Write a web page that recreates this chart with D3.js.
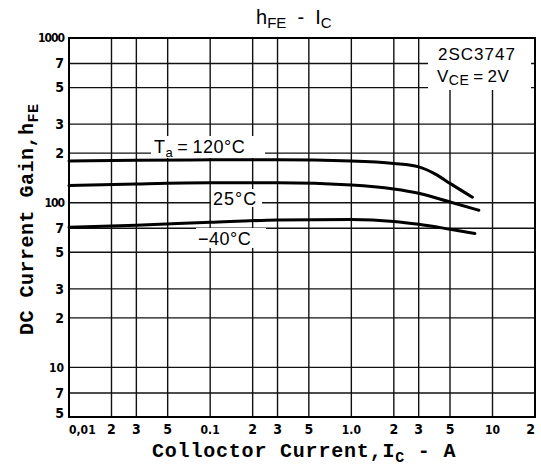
<!DOCTYPE html>
<html>
<head>
<meta charset="utf-8">
<script src="https://cdn.jsdelivr.net/npm/d3@7"></script>
<style>
  body { margin: 0; background: #fff; }
  svg { display: block; }
</style>
</head>
<body>
<svg id="chart" width="541" height="473"></svg>
<script>
// hFE - IC curves
const ic120 = [0.01, 0.03, 0.1, 0.3, 1, 2, 3, 4, 5, 7.2];
const hfe120 = [179, 181, 182, 182, 179, 173, 165, 148, 131, 108];
const ic25 = [0.01, 0.03, 0.1, 0.3, 1, 2, 3, 5, 8];
const hfe25 = [127, 130, 132, 132, 128, 121, 114, 101, 90];
const icM40 = [0.01, 0.03, 0.1, 0.3, 1, 2, 3, 5, 7.5];
const hfeM40 = [71, 73, 76, 78.5, 79, 77, 74, 69, 65];

const xGrid = [0.01, 0.02, 0.03, 0.05, 0.1, 0.2, 0.3, 0.5, 1, 2, 3, 5, 10, 20];
const xLabels = ["0,01", "2", "3", "5", "0.1", "2", "3", "5", "1.0", "2", "3", "5", "10", "2"];
const yGrid = [5, 7, 10, 20, 30, 50, 70, 100, 200, 300, 500, 700, 1000];
const yLabels = ["5", "7", "10", "2", "3", "5", "7", "100", "2", "3", "5", "7", "1000"];

let svg = d3.select("#chart");
let svgWidth = 541;
let svgHeight = 473;
let margin = { top: 38, bottom: 56, left: 69, right: 6 };
let innerWidth = svgWidth - margin.left - margin.right;
let innerHeight = svgHeight - margin.top - margin.bottom;

let chartArea = svg
  .append("g")
  .attr("transform", "translate(" + margin.left + "," + margin.top + ")");

let xScale = d3.scaleLog().domain([0.01, 20]).range([0, innerWidth]);
let yScale = d3.scaleLog().domain([5, 1000]).range([innerHeight, 0]);

// grid
chartArea
  .selectAll(".vgrid")
  .data(xGrid)
  .enter()
  .append("line")
  .attr("class", "vgrid")
  .attr("x1", (d) => xScale(d))
  .attr("x2", (d) => xScale(d))
  .attr("y1", 0)
  .attr("y2", innerHeight)
  .attr("stroke", "#111")
  .attr("stroke-width", 1.4);

chartArea
  .selectAll(".hgrid")
  .data(yGrid)
  .enter()
  .append("line")
  .attr("class", "hgrid")
  .attr("x1", 0)
  .attr("x2", innerWidth)
  .attr("y1", (d) => yScale(d))
  .attr("y2", (d) => yScale(d))
  .attr("stroke", "#111")
  .attr("stroke-width", 1.4);

// frame
chartArea
  .append("rect")
  .attr("x", 0)
  .attr("y", 0)
  .attr("width", innerWidth)
  .attr("height", innerHeight)
  .attr("fill", "none")
  .attr("stroke", "#000")
  .attr("stroke-width", 2);

// tick labels
let tickFont = "'DejaVu Sans Condensed', 'Liberation Sans Narrow', 'DejaVu Sans', sans-serif";
svg
  .append("g")
  .selectAll("text")
  .data(xGrid)
  .enter()
  .append("text")
  .attr("x", (d, i) => margin.left + xScale(d))
  .attr("y", margin.top + innerHeight + 17)
  .attr("text-anchor", (d, i) => (i === 0 ? "start" : i === xGrid.length - 1 ? "end" : "middle"))
  .attr("font-family", tickFont)
  .attr("font-weight", "bold")
  .attr("font-size", (d, i) => (xLabels[i].length > 1 ? 12 : 14))
  .text((d, i) => xLabels[i]);

svg
  .append("g")
  .selectAll("text")
  .data(yGrid)
  .enter()
  .append("text")
  .attr("x", margin.left - 5)
  .attr("y", (d) => margin.top + yScale(d))
  .attr("dy", (d, i) => (i === 0 ? "0.1em" : "0.35em"))
  .attr("text-anchor", "end")
  .attr("font-family", tickFont)
  .attr("font-weight", "bold")
  .attr("font-size", (d, i) => (yLabels[i].length > 1 ? 12 : 14))
  .attr("letter-spacing", (d, i) => (yLabels[i].length > 2 ? -1 : 0))
  .text((d, i) => yLabels[i]);

// curves
let line = d3
  .line()
  .curve(d3.curveMonotoneX)
  .x((d) => xScale(d[0]))
  .y((d) => yScale(d[1]));

[
  [ic120, hfe120],
  [ic25, hfe25],
  [icM40, hfeM40],
].forEach(([xs, ys]) => {
  chartArea
    .append("path")
    .datum(d3.zip(xs, ys))
    .attr("fill", "none")
    .attr("stroke", "#000")
    .attr("stroke-width", 3)
    .attr("stroke-linecap", "round")
    .attr("d", line);
});

// annotations
let noteFont = "'Liberation Sans', 'DejaVu Sans', sans-serif";
function note(px, py, w, h) {
  svg
    .append("rect")
    .attr("x", px)
    .attr("y", py)
    .attr("width", w)
    .attr("height", h)
    .attr("fill", "#fff");
}

note(151, 136, 114, 22);
let t1 = svg
  .append("text")
  .attr("x", 154)
  .attr("y", 153)
  .attr("font-family", noteFont)
  .attr("font-size", 18)
  .attr("letter-spacing", 0.5);
t1.append("tspan").text("T");
t1.append("tspan").attr("font-size", 13).attr("dy", 4).text("a");
t1.append("tspan").attr("dy", -4).text("\u2009=\u2009120\u00b0C");

note(211, 189, 51, 18);
svg
  .append("text")
  .attr("x", 213)
  .attr("y", 205)
  .attr("font-family", noteFont)
  .attr("font-size", 18)
  .attr("letter-spacing", 1)
  .text("25\u00b0C");

note(196, 228, 70, 20);
svg
  .append("text")
  .attr("x", 198)
  .attr("y", 245)
  .attr("font-family", noteFont)
  .attr("font-size", 18)
  .attr("letter-spacing", 0.5)
  .text("\u221240\u00b0C");

note(428, 39, 103, 51);
svg
  .append("text")
  .attr("x", 438)
  .attr("y", 60)
  .attr("font-family", noteFont)
  .attr("font-size", 17)
  .attr("letter-spacing", 1)
  .text("2SC3747");
let t2 = svg
  .append("text")
  .attr("x", 437)
  .attr("y", 82)
  .attr("font-family", noteFont)
  .attr("font-size", 17)
  .attr("letter-spacing", 0.5);
t2.append("tspan").text("V");
t2.append("tspan").attr("font-size", 14).attr("dy", 3).text("CE");
t2.append("tspan").attr("dy", -3).text("\u2009=\u20092V");

// title
let title = svg
  .append("text")
  .attr("x", 256)
  .attr("y", 24)
  .attr("font-family", noteFont)
  .attr("font-size", 20);
title.append("tspan").text("h");
title.append("tspan").attr("font-size", 15).attr("dy", 4).text("FE");
title.append("tspan").attr("dy", -4).text("\u00a0\u00a0-\u00a0\u00a0I");
title.append("tspan").attr("font-size", 15).attr("dy", 4).text("C");

// axis titles
let axisFont = "'Liberation Mono', 'DejaVu Sans Mono', monospace";
let xTitle = svg
  .append("text")
  .attr("x", 152)
  .attr("y", 457)
  .attr("font-family", axisFont)
  .attr("font-weight", "bold")
  .attr("font-size", 20)
  .attr("letter-spacing", 0.8);
xTitle.append("tspan").text("Colloctor Current,I");
xTitle.append("tspan").attr("font-size", 15).attr("dy", 5).text("C");
xTitle.append("tspan").attr("dy", -5).text("\u00a0-\u00a0A");

let yTitle = svg
  .append("text")
  .attr("transform", "translate(33,335) rotate(-90)")
  .attr("font-family", axisFont)
  .attr("font-weight", "bold")
  .attr("font-size", 20)
  .attr("letter-spacing", 0.5);
yTitle.append("tspan").text("DC Current Gain,h");
yTitle.append("tspan").attr("font-size", 15).attr("dy", 5).text("FE");
</script>
</body>
</html>
